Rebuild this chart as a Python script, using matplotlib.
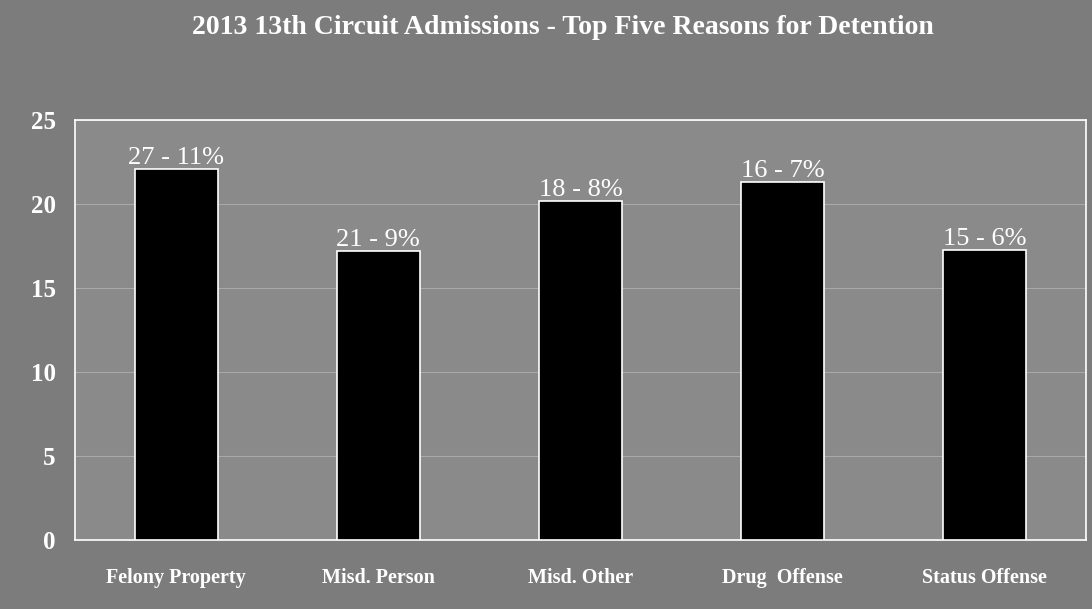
import matplotlib.pyplot as plt

categories = ["Felony Property", "Misd. Person", "Misd. Other", "Drug  Offense", "Status Offense"]
bar_heights = [22.1, 17.2, 20.2, 21.3, 17.25]
bar_labels = ["27 - 11%", "21 - 9%", "18 - 8%", "16 - 7%", "15 - 6%"]
y_ticks = [0, 5, 10, 15, 20, 25]
title = "2013 13th Circuit Admissions - Top Five Reasons for Detention"

serif = ["Liberation Serif", "DejaVu Serif"]

fig = plt.figure(figsize=(10.92, 6.09), dpi=100, facecolor="#7c7c7c")
ax = fig.add_axes([0.0687, 0.1133, 0.9258, 0.6897])
ax.set_facecolor("#8a8a8a")

x = range(len(categories))
ax.bar(x, bar_heights, width=0.41, color="black", edgecolor="white", linewidth=1.2, zorder=3)
for xi, h, lab in zip(x, bar_heights, bar_labels):
    ax.text(xi, h, lab, ha="center", va="bottom", color="white",
            fontsize=19, family=serif, zorder=4)

ax.set_xlim(-0.5, len(categories) - 0.5)
ax.set_ylim(0, 25)
ax.set_yticks(y_ticks)
ax.set_yticklabels([str(t) for t in y_ticks], color="white", fontsize=18,
                   fontweight="bold", family=serif)
ax.set_xticks(list(x))
ax.set_xticklabels(categories, color="white", fontsize=14.5, fontweight="bold", family=serif)
ax.tick_params(axis="both", length=0)
ax.tick_params(axis="y", pad=14)
ax.tick_params(axis="x", pad=20)
ax.yaxis.grid(True, color="#cfcfcf", linewidth=0.8, alpha=0.45, zorder=0)
for s in ax.spines.values():
    s.set_color("white")
    s.set_linewidth(1.2)

fig.text(0.515, 0.955, title, ha="center", va="center", color="white",
         fontsize=20, fontweight="bold", family=serif)

fig.savefig("out.png", dpi=100, facecolor=fig.get_facecolor())
